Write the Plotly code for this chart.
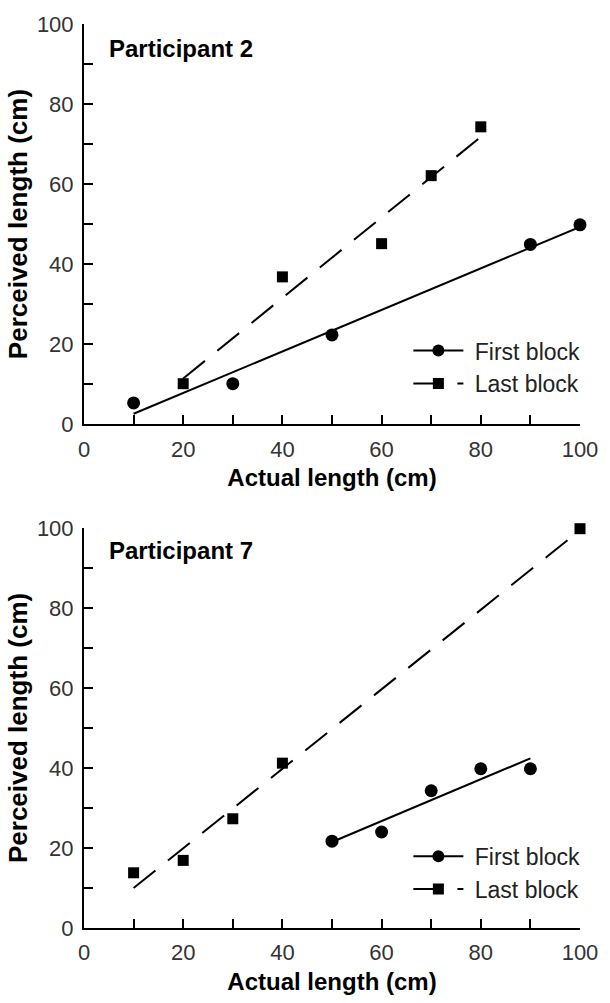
import plotly.graph_objects as go

# ---- data ----
p2_first_x = [10, 30, 50, 90, 100]
p2_first_y = [5.3, 10.1, 22.3, 44.9, 49.8]
p2_last_x = [20, 40, 60, 70, 80]
p2_last_y = [10.1, 36.8, 45.1, 62.1, 74.3]
p2_first_fit_x = [10, 100]
p2_first_fit_y = [2.6, 49.3]
p2_last_fit_x = [20, 80]
p2_last_fit_y = [11.4, 71.8]

p7_first_x = [50, 60, 70, 80, 90]
p7_first_y = [21.7, 24.0, 34.3, 39.8, 39.8]
p7_last_x = [10, 20, 30, 40, 100]
p7_last_y = [13.8, 16.9, 27.3, 41.2, 99.8]
p7_first_fit_x = [50, 90]
p7_first_fit_y = [21.5, 42.4]
p7_last_fit_x = [10, 100]
p7_last_fit_y = [10.0, 99.4]

tick_vals = [0, 10, 20, 30, 40, 50, 60, 70, 80, 90, 100]
tick_text = ["0", "", "20", "", "40", "", "60", "", "80", "", "100"]
series_names = ["First block", "Last block"]
panel_titles = ["Participant 2", "Participant 7"]
x_title = "Actual length (cm)"
y_title = "Perceived length (cm)"

FONT = "Liberation Sans, Arial, Helvetica, sans-serif"
DASH = "28px,16px"
LW = 2

fig = go.Figure()

panels = [
    ("x", "y", "legend", p2_first_x, p2_first_y, p2_last_x, p2_last_y,
     p2_first_fit_x, p2_first_fit_y, p2_last_fit_x, p2_last_fit_y),
    ("x2", "y2", "legend2", p7_first_x, p7_first_y, p7_last_x, p7_last_y,
     p7_first_fit_x, p7_first_fit_y, p7_last_fit_x, p7_last_fit_y),
]

for (xa, ya, lg, fx, fy, lx, ly, ffx, ffy, lfx, lfy) in panels:
    fig.add_trace(go.Scatter(x=ffx, y=ffy, xaxis=xa, yaxis=ya, mode="lines",
                             line=dict(color="black", width=LW), showlegend=False))
    fig.add_trace(go.Scatter(x=lfx, y=lfy, xaxis=xa, yaxis=ya, mode="lines",
                             line=dict(color="black", width=LW, dash=DASH), showlegend=False))
    fig.add_trace(go.Scatter(x=fx, y=fy, xaxis=xa, yaxis=ya, mode="markers",
                             marker=dict(symbol="circle", size=13, color="black"),
                             cliponaxis=False, showlegend=False))
    fig.add_trace(go.Scatter(x=lx, y=ly, xaxis=xa, yaxis=ya, mode="markers",
                             marker=dict(symbol="square", size=11, color="black"),
                             cliponaxis=False, showlegend=False))
    # legend entries
    fig.add_trace(go.Scatter(x=[None], y=[None], xaxis=xa, yaxis=ya, mode="lines+markers",
                             name="\u00a0" + series_names[0], legend=lg,
                             line=dict(color="black", width=LW),
                             marker=dict(symbol="circle", size=12, color="black")))
    fig.add_trace(go.Scatter(x=[None], y=[None], xaxis=xa, yaxis=ya, mode="lines+markers",
                             name="\u00a0" + series_names[1], legend=lg,
                             line=dict(color="black", width=LW, dash=DASH),
                             marker=dict(symbol="square", size=11, color="black")))

axis_common = dict(
    range=[0, 100], tickmode="array", tickvals=tick_vals, ticktext=tick_text,
    ticks="inside", ticklen=9, tickwidth=2, tickcolor="black",
    showline=True, linecolor="black", linewidth=2, showgrid=False, zeroline=False,
    tickfont=dict(family=FONT, size=22, color="#333"),
    fixedrange=True,
)

top_dom = [1 - 401 / 906, 1.0]
bot_dom = [0.0, 401 / 906]

xt = dict(text="<b>" + x_title + "</b>", standoff=9,
          font=dict(family=FONT, size=24, color="black"))
yt = dict(text="<b>" + y_title + "</b>", standoff=2,
          font=dict(family=FONT, size=26, color="black"))

legend_style = dict(xanchor="left", yanchor="top",
                    font=dict(family=FONT, size=23, color="#222"), itemwidth=50,
                    bgcolor="rgba(0,0,0,0)", borderwidth=0, tracegroupgap=0)

fig.update_layout(
    width=610, height=1003,
    margin=dict(l=84, r=21, t=22, b=75),
    paper_bgcolor="white", plot_bgcolor="white",
    font=dict(family=FONT, color="black"),
    xaxis=dict(axis_common, domain=[0, 1], anchor="y", title=xt, ticklabelstandoff=4),
    yaxis=dict(axis_common, domain=top_dom, anchor="x", title=yt, ticklabelstandoff=4),
    xaxis2=dict(axis_common, domain=[0, 1], anchor="y2", title=xt, ticklabelstandoff=4),
    yaxis2=dict(axis_common, domain=bot_dom, anchor="x2", title=yt, ticklabelstandoff=4),
    legend=dict(legend_style, x=0.654, y=0.6625),
    legend2=dict(legend_style, x=0.654, y=0.1032),
    annotations=[
        dict(text="<b>" + panel_titles[0] + "</b>", x=4.6, y=94.0, xref="x", yref="y",
             xanchor="left", yanchor="middle", showarrow=False,
             font=dict(family=FONT, size=24, color="black")),
        dict(text="<b>" + panel_titles[1] + "</b>", x=4.6, y=94.3, xref="x2", yref="y2",
             xanchor="left", yanchor="middle", showarrow=False,
             font=dict(family=FONT, size=24, color="black")),
    ],
)

fig.write_html("out.html")
